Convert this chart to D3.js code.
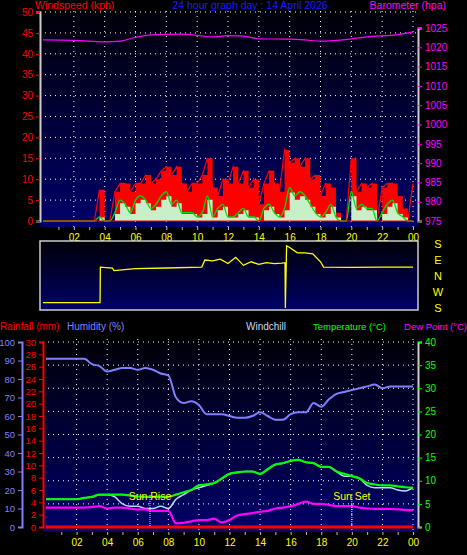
<!DOCTYPE html>
<html><head><meta charset="utf-8">
<script src="https://cdn.jsdelivr.net/npm/d3@7"></script>
<style>body{margin:0;background:#000}svg{display:block;font-family:"Liberation Sans",Arial,sans-serif}</style>
</head><body>
<svg id="chart" width="467" height="555"></svg>
<script>
// 24h weather graph - 14 April 2026

// wind, every 20 minutes (kph)
let windGust = [0,0,0,0,0,0,0,0,0,0,0,7.5,0,0,7,9,9,7,9,9,11,9,10,12,13,11,13,9,7,9,9,11,15,8,6,10,9,13,9,12,8,10,4,9,12,9,7,17,14,15,13,15,10,11,6,9,8,2,0,0,15,7,9,8,9,0,8,9,9,6,3,0,9];
let windAvg = [0,0,0,0,0,0,0,0,0,0,0,1,0,0,2,5,4,2,5,6,5,3,4,6,7,4,5,2,2,2,1,2,6,1,3,4,1,1,2,3,1,1,0,3,4,2,1,3,8,6,7,6,4,2,1,2,4,1,0,0,7,3,4,3,3,0,2,4,5,2,1,0,0];
// barometer (hpa)
let baroHours = [0,2,4,5,6,7,9,11,12,13,14,16,17,18,20,21,23,24];
let baroValues = [1021.9,1021.8,1021.4,1021.6,1022.6,1023.2,1023.4,1022.7,1023.0,1022.9,1022.2,1022.1,1021.9,1021.6,1022.2,1022.7,1023.3,1024.0];
// wind direction (deg, S=180 top, N=0, S=-180 bottom)
let dirHours = [0,3.7,3.72,4.5,4.6,6,8,10.3,10.5,11,11.5,12,12.5,13,13.5,14,14.5,15,15.5,15.7,15.72,15.8,16,16.5,17,17.5,18,18.2,20,22,24];
let dirValues = [-150,-150,50,45,30,42,45,50,90,85,95,70,105,60,80,65,75,70,72,75,-180,170,160,130,130,125,80,50,48,50,50];
// bottom panel, every 30 minutes
let humidity = [91,91,91,91,91,91,88,87,84,85,86,86,85,86,85,83,82,70,67,68,66,61,61,61,60,59,59,60,62,60,58,58,61,62,62,67,65,69,72,73,74,75,76,77,75,76,76,76,76];
let temperature = [6,6,6,6,6,6.3,6.5,7,7,7,7,6.8,6.6,6.5,6.5,6.5,6.5,7,7.5,8,9,9.2,9.5,10.5,11.5,11.8,12,12,11.5,12.5,13.5,13.8,14.3,14.5,14,13.8,13,13,12,11.5,11,10.5,9.5,9.2,9,9,8.8,8.6,8.5];
let windchill = [6,6,6,6,6,6.3,6.5,7,7,6.5,5,4.5,4.5,4,4,4.5,4,6,7,8,8.5,9,9.5,10.5,11.5,11.8,12,12,11.5,12.5,13.5,13.8,14.3,14.5,14,13.8,13,13,12,11,11,10.5,9,8.5,8.5,8.5,8,7.8,8.5];
let dewPoint = [4.2,4.2,4.2,4.2,4.2,4.2,4.3,4.5,4,4.2,4.2,4,3.8,3.8,3.5,3.5,3.5,0.8,0.9,1.2,1.5,1.5,1.8,1,1.5,2.5,2.8,3,3.3,3.5,4,4.2,4.5,5,5.5,5,5,4.8,4.5,4.5,4.5,4.2,4,3.9,3.9,3.9,3.8,3.7,3.6];
let rainfall = d3.range(49).map(() => 0);
let hourLabels = ["02","04","06","08","10","12","14","16","18","20","22","00"];
let dirLabels = ["S","E","N","W","S"];
let sunEvents = [{h:6.8, label:"Sun Rise"},{h:20, label:"Sun Set"}];

let svg = d3.select('#chart');
let defs = svg.append('defs');
let grad = defs.append('linearGradient').attr('id','bg').attr('x1',0).attr('y1',0).attr('x2',0).attr('y2',1);
grad.append('stop').attr('offset','0%').attr('stop-color','#000008');
grad.append('stop').attr('offset','100%').attr('stop-color','#00006a');

function txt(x, y, s, col, anchor, size) {
  svg.append('text').attr('x',x).attr('y',y).attr('fill',col).attr('font-size',size || 10.5)
    .attr('text-anchor',anchor || 'start').text(s);
}

function hourAxis(x, y) {
  svg.append('g').attr('transform','translate(0,'+y+')')
    .call(d3.axisBottom(x).tickValues(d3.range(1,25)).tickSize(3)
      .tickFormat(d => d % 2 == 0 ? hourLabels[d/2-1] : ''))
    .call(g => { g.select('.domain').remove();
      g.selectAll('line').attr('stroke','#bbb');
      g.selectAll('text').attr('fill','#ff0').attr('font-size',10).attr('dy','0.75em'); });
}

function grid(x, y, yTicks, x0, x1, y0, y1) {
  let g = svg.append('g').attr('stroke','#fff').attr('stroke-dasharray','1,4');
  d3.range(2,25,2).forEach(h => g.append('line').attr('x1',x(h)).attr('x2',x(h)).attr('y1',y0).attr('y2',y1));
  yTicks.forEach(v => g.append('line').attr('x1',x0).attr('x2',x1).attr('y1',y(v)).attr('y2',y(v)));
}

/* ============== top panel: windspeed / barometer ============== */
let xTop = d3.scaleLinear().domain([0,24]).range([43,413]);
let yWind = d3.scaleLinear().domain([0,50]).range([221,12]);
let yBaro = d3.scaleLinear().domain([975,1025]).range([221,28]);
svg.append('rect').attr('x',40).attr('y',11).attr('width',378).attr('height',216).attr('fill','url(#bg)');
grid(xTop, yWind, d3.range(5,51,5), 40, 418, 11, 227);

let t20 = windGust.map((d,i) => i/3);
svg.append('path').datum(windGust)
  .attr('d', d3.area().curve(d3.curveStepAfter).x((d,i) => xTop(t20[i])).y0(yWind(0)).y1(d => yWind(d)))
  .attr('fill','#f00');
svg.append('path').datum(windGust)
  .attr('d', d3.line().x((d,i) => xTop(t20[i])).y(d => yWind(d)))
  .attr('fill','none').attr('stroke','#f00').attr('stroke-width',1.2);
svg.append('path').datum(windAvg)
  .attr('d', d3.area().curve(d3.curveStepAfter).x((d,i) => xTop(t20[i])).y0(yWind(0)).y1(d => yWind(d*0.85)))
  .attr('fill','#c8f0c8');
svg.append('path').datum(windAvg)
  .attr('d', d3.line().curve(d3.curveMonotoneX).x((d,i) => xTop(t20[i])).y(d => yWind(d)))
  .attr('fill','none').attr('stroke','#0d0').attr('stroke-width',1.3);
svg.append('line').attr('x1',43).attr('x2',413).attr('y1',yWind(0)).attr('y2',yWind(0)).attr('stroke','#f00');
svg.append('path').datum(baroValues)
  .attr('d', d3.line().curve(d3.curveMonotoneX).x((d,i) => xTop(baroHours[i])).y(d => yBaro(d)))
  .attr('fill','none').attr('stroke','#f0f').attr('stroke-width',1.2);

svg.append('g').attr('transform','translate(40,0)')
  .call(d3.axisLeft(yWind).tickValues(d3.range(0,51,5)).tickSize(4))
  .call(g => { g.select('.domain').attr('stroke','#ccc').attr('stroke-width',2);
    g.selectAll('line').attr('stroke','#f00'); g.selectAll('text').attr('fill','#f00').attr('font-size',10); });
svg.append('g').attr('transform','translate(418,0)')
  .call(d3.axisRight(yBaro).tickValues(d3.range(975,1026,5)).tickSize(4).tickFormat(d3.format('d')))
  .call(g => { g.select('.domain').attr('stroke','#ccc').attr('stroke-width',2);
    g.selectAll('line').attr('stroke','#f0f'); g.selectAll('text').attr('fill','#f0f').attr('font-size',10); });
hourAxis(xTop, 227);
txt(35, 9, 'Windspeed (kph)', '#f00');
txt(250, 9, '24 hour graph day : 14 April 2026', '#1c1cff', 'middle');
txt(446, 9, 'Barometer (hpa)', '#f0f', 'end');

/* ============== wind direction ============== */
let yDir = d3.scaleLinear().domain([-180,180]).range([308,244]);
svg.append('rect').attr('x',40).attr('y',241).attr('width',378).attr('height',69)
  .attr('fill','url(#bg)').attr('stroke','#ccc').attr('stroke-width',1.5);
svg.append('path').datum(dirValues)
  .attr('d', d3.line().x((d,i) => xTop(dirHours[i])).y(d => yDir(d)))
  .attr('fill','none').attr('stroke','#ff0').attr('stroke-width',1.3);
svg.append('g').selectAll('text').data(dirLabels).join('text')
  .attr('x',438).attr('y',(d,i) => yDir(180 - i*90) + 4).attr('fill','#ff0')
  .attr('font-size',11).attr('text-anchor','middle').text(d => d);

/* ============== bottom panel ============== */
let xBot = d3.scaleLinear().domain([0,24]).range([46,413]);
let yHum = d3.scaleLinear().domain([0,100]).range([527,342]);
let yRain = d3.scaleLinear().domain([0,30]).range([527,342]);
let yTemp = d3.scaleLinear().domain([0,40]).range([527,342]);
svg.append('rect').attr('x',43).attr('y',339).attr('width',375).attr('height',193).attr('fill','url(#bg)');
grid(xBot, yTemp, d3.range(5,41,5), 43, 418, 339, 532);
let t30 = humidity.map((d,i) => i/2);
function series(data, y, col, w) {
  svg.append('path').datum(data)
    .attr('d', d3.line().curve(d3.curveMonotoneX).x((d,i) => xBot(t30[i])).y(d => y(d)))
    .attr('fill','none').attr('stroke',col).attr('stroke-width',w);
}
series(humidity, yHum, '#8080ff', 2);
series(windchill, yTemp, '#c0d8ff', 1.5);
series(temperature, yTemp, '#0f0', 2.2);
series(dewPoint, yTemp, '#f0f', 2.2);
series(rainfall, yRain, '#f00', 3);

sunEvents.forEach(s => {
  svg.append('line').attr('x1',xBot(s.h)).attr('x2',xBot(s.h)).attr('y1',495).attr('y2',527)
    .attr('stroke','#ff0').attr('stroke-dasharray','1,1');
  txt(xBot(s.h), 500, s.label, '#ff0', 'middle');
});

svg.append('g').attr('transform','translate(43,0)')
  .call(d3.axisLeft(yRain).tickValues(d3.range(0,31,2)).tickSize(4))
  .call(g => { g.select('.domain').attr('stroke','#f00').attr('stroke-width',2);
    g.selectAll('line').attr('stroke','#f00'); g.selectAll('text').attr('fill','#f00').attr('font-size',9.5); });
svg.append('g').attr('transform','translate(22,0)')
  .call(d3.axisLeft(yHum).tickValues(d3.range(0,101,10)).tickSize(4))
  .call(g => { g.select('.domain').attr('stroke','#8080ff').attr('stroke-width',2);
    g.selectAll('line').attr('stroke','#8080ff'); g.selectAll('text').attr('fill','#8080ff').attr('font-size',9.5); });
svg.append('g').attr('transform','translate(418,0)')
  .call(d3.axisRight(yTemp).tickValues(d3.range(0,41,5)).tickSize(4))
  .call(g => { g.select('.domain').attr('stroke','#ccc').attr('stroke-width',2);
    g.selectAll('line').attr('stroke','#0f0'); g.selectAll('text').attr('fill','#0f0').attr('font-size',10); });
hourAxis(xBot, 532);
txt(0, 330, 'Rainfall (mm)', '#f00', 'start', 10);
txt(67, 330, 'Humidity (%)', '#8080ff', 'start', 10);
txt(246, 330, 'Windchill', '#c0d8ff', 'start', 10);
txt(313, 330, 'Temperature (°C)', '#0f0', 'start', 9.5);
txt(467, 330, 'Dew Point (°C)', '#f0f', 'end', 9.5);
</script>
</body></html>
